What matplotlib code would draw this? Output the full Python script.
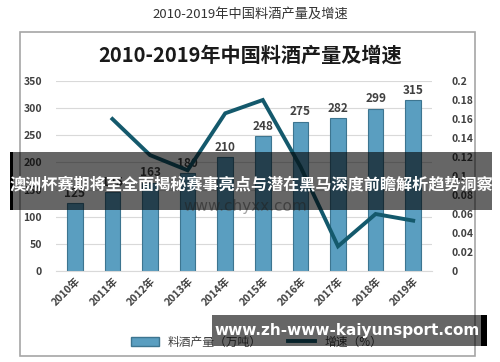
import matplotlib
matplotlib.use("Agg")
import matplotlib.pyplot as plt
from matplotlib.patches import Rectangle
from matplotlib.lines import Line2D

plt.rcParams['font.family'] = ['Noto Sans CJK SC', 'DejaVu Sans']

# data
years = ['2010年', '2011年', '2012年', '2013年', '2014年',
         '2015年', '2016年', '2017年', '2018年', '2019年']
output = [125, 145, 163, 180, 210, 248, 275, 282, 299, 315]
growth = [None, 0.16, 0.122, 0.106, 0.166, 0.18, 0.11, 0.026, 0.06, 0.053]
left_ticks = [0, 50, 100, 150, 200, 250, 300, 350]
right_ticks = [0, 0.02, 0.04, 0.06, 0.08, 0.1, 0.12, 0.14, 0.16, 0.18, 0.2]

title = '2010-2019年中国料酒产量及增速'
banner = '澳洲杯赛期将至全面揭秘赛事亮点与潜在黑马深度前瞻解析趋势洞察'
site = 'www.zh-www-kaiyunsport.com'

fig = plt.figure(figsize=(5, 3.62), dpi=100)
W, H = 500, 362

def fx(px):
    return px / W

def fy(py):
    return 1 - py / H

# outer title and the framed chart image
fig.text(0.5, fy(14), title, ha='center', va='center', fontsize=9.5, color='#333333')
fig.patches.append(Rectangle((fx(20), fy(356)), fx(455), 324 / H, transform=fig.transFigure,
                             fill=True, facecolor='white', edgecolor='#a6a6a6', lw=1.2, zorder=-5))
fig.text(0.5, fy(55), title, ha='center', va='center', fontsize=14.5, fontweight='bold',
         color='#1a1a1a')

ax = fig.add_axes([fx(56), fy(271), fx(376), 190 / H])
ax.set_zorder(1)
ax.patch.set_alpha(0)
x = list(range(len(years)))
bars = ax.bar(x, output, width=0.42, color='#5a9ec0', edgecolor='#3d7590', lw=0.8, zorder=2)
for xi, v in zip(x, output):
    ax.text(xi, v + 6, str(v), ha='center', va='bottom', fontsize=8.5, color='#404040',
            fontweight='bold')
ax.set_ylim(0, 350)
ax.set_xlim(-0.5, len(years) - 0.5)
ax.set_yticks(left_ticks)
ax.yaxis.grid(True, color='#d9d9d9', lw=0.8)
ax.set_axisbelow(True)
for s in ['top', 'right', 'left']:
    ax.spines[s].set_visible(False)
ax.spines['bottom'].set_color('#d9d9d9')
ax.tick_params(axis='both', length=0, labelsize=7.5, labelcolor='#404040')
ax.tick_params(axis='y', pad=10)
ax.set_xticks(x)
ax.set_xticklabels(years, rotation=45, ha='right', rotation_mode='anchor', fontweight='bold')
for lab in ax.get_yticklabels():
    lab.set_fontweight('bold')

ax2 = ax.twinx()
gx = [xi for xi, g in zip(x, growth) if g is not None]
gy = [g for g in growth if g is not None]
ax2.plot(gx, gy, color='#14596c', lw=2.8, solid_joinstyle='miter', zorder=3)
ax2.set_ylim(0, 0.2)
ax2.set_yticks(right_ticks)
ax2.set_yticklabels(['%g' % t for t in right_ticks], fontweight='bold')
ax2.tick_params(axis='y', length=0, labelsize=7.5, labelcolor='#404040', pad=14)
for s in ax2.spines.values():
    s.set_visible(False)

# watermark of the source image
fig.text(fx(245), fy(207), 'www.chyxx.com', ha='center', va='center', fontsize=11,
         color='#555555', alpha=0.55, family='DejaVu Sans', zorder=5)

# legend
handles = [Rectangle((0, 0), 1, 1, facecolor='#5a9ec0', edgecolor='#3d7590'),
           Line2D([], [], color='#14596c', lw=2.8)]
fig.legend(handles, ['料酒产量（万吨）', '增速（%）'], loc='center', ncol=2,
           bbox_to_anchor=(fx(257), fy(342)), frameon=False, fontsize=8.5,
           handlelength=2.3, columnspacing=2.2, labelcolor='#404040')

# overlay banners
fig.patches.append(Rectangle((fx(10), fy(210)), fx(482), 58 / H, transform=fig.transFigure,
                             facecolor='black', alpha=0.6, lw=0, zorder=10))
fig.patches.append(Rectangle((fx(10), fy(210)), fx(2.5), 58 / H, transform=fig.transFigure,
                             facecolor='black', lw=0, zorder=10))
fig.text(fx(251), fy(184), banner, ha='center', va='center', fontsize=11.6,
         fontweight='bold', color='white', zorder=11)

fig.patches.append(Rectangle((fx(212), fy(346)), fx(275), 31 / H, transform=fig.transFigure,
                             facecolor='black', alpha=0.6, lw=0, zorder=10))
fig.patches.append(Rectangle((fx(481), fy(346)), fx(6), 31 / H, transform=fig.transFigure,
                             facecolor='black', lw=0, zorder=10))
fig.text(fx(347), fy(331), site, ha='center', va='center', fontsize=11,
         fontweight='bold', color='white', zorder=11, family='DejaVu Sans')

fig.savefig('out.png', dpi=100)
